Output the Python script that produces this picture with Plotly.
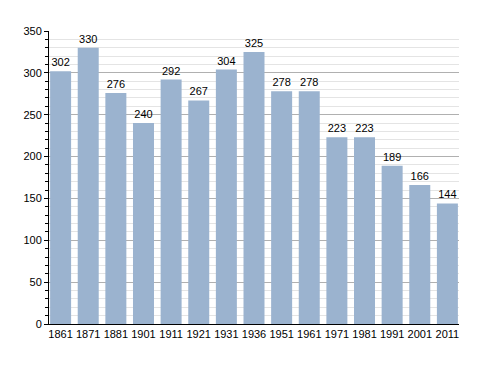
import plotly.graph_objects as go

years = ["1861", "1871", "1881", "1901", "1911", "1921", "1931", "1936",
         "1951", "1961", "1971", "1981", "1991", "2001", "2011"]
population = [302, 330, 276, 240, 292, 267, 304, 325, 278, 278, 223, 223, 189, 166, 144]

fig = go.Figure()
fig.add_trace(go.Bar(
    x=years, y=population,
    marker=dict(color="#9bb3cf", line=dict(width=0)),
    text=[str(v) for v in population],
    textposition="outside",
    textfont=dict(family="Liberation Sans, Arial", size=11, color="black"),
    cliponaxis=False,
))

fig.update_layout(
    width=488, height=373,
    margin=dict(l=41, r=37, t=23, b=57),
    paper_bgcolor="white", plot_bgcolor="white",
    bargap=0.24,
    showlegend=False,
    font=dict(family="Liberation Sans, Arial", size=11, color="black"),
    uniformtext=dict(minsize=11, mode="show"),
)
fig.update_xaxes(
    type="category",
    range=[-0.42, 14.42],
    showline=True, linecolor="black", linewidth=1,
    ticks="", showgrid=False,
    tickfont=dict(size=11, color="black"),
)
fig.update_yaxes(
    range=[0, 350],
    tick0=0, dtick=50,
    showline=True, linecolor="black", linewidth=1,
    ticks="outside", ticklen=4, tickcolor="black",
    showgrid=True, gridcolor="#b0b0b0", gridwidth=1,
    zeroline=False,
    tickfont=dict(size=11, color="black"),
    minor=dict(dtick=10, ticks="outside", ticklen=3, tickcolor="black",
               showgrid=True, gridcolor="#e4e4e4", gridwidth=1),
    layer="below traces",
)

fig.write_html("out.html")
